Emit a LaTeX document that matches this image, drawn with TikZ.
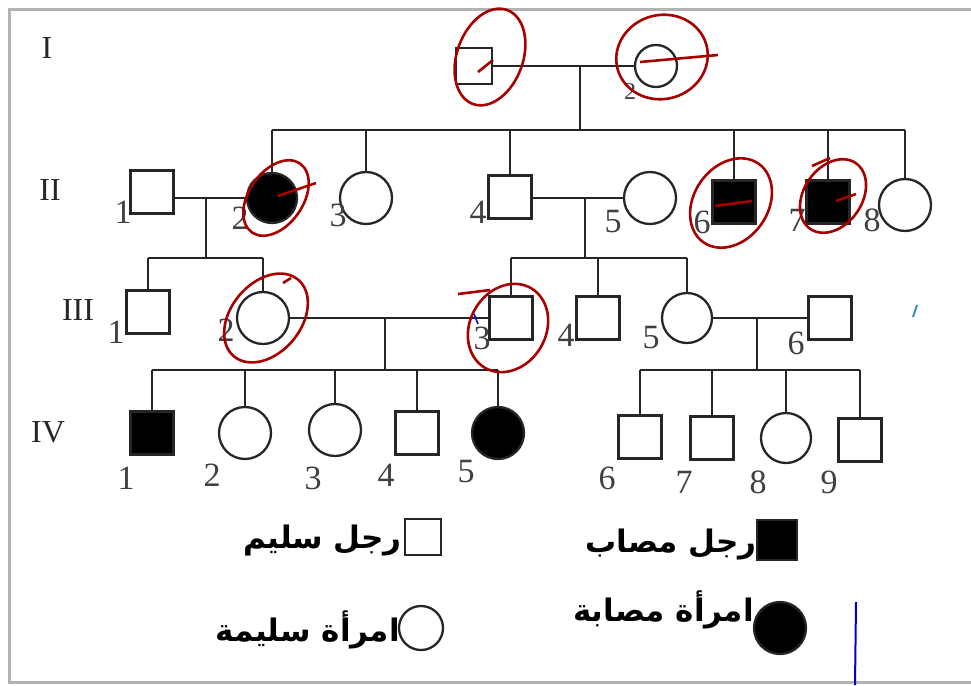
\documentclass[tikz,border=0pt]{standalone}
\usepackage{fontspec}
\setmainfont{Liberation Serif}
\newfontfamily\arabicfont[Script=Arabic]{DejaVu Sans}
\TeXXeTstate=1
\tikzset{
  ped/.style={line width=2.3pt, draw=black!85},
  male/.style={draw=black!85, line width=2.3pt, minimum size=43pt, inner sep=0pt, outer sep=0pt},
  fem/.style={draw=black!85, circle, line width=2.3pt, minimum size=52pt, inner sep=0pt, outer sep=0pt},
  aff/.style={fill=black},
  num/.style={font=\fontsize{34}{34}\selectfont, text=black!75, inner sep=0pt},
  gen/.style={font=\fontsize{32}{32}\selectfont, text=black!85, inner sep=0pt},
  leg/.style={font=\arabicfont\bfseries\fontsize{31}{33}\selectfont, inner sep=0pt},
  ann/.style={draw=red!65!black, line width=2.6pt},
}
\begin{document}
\begin{tikzpicture}[x=1pt,y=-1pt]
\useasboundingbox (0,0) rectangle (971,685);
\draw[gray!60, line width=3pt] (980,10) -- (9,10) -- (9,682) -- (980,682);

% generation labels
\node[gen] (gI) at (47,48) {I};
\node[gen] (gII) at (50,190) {II};
\node[gen] (gIII) at (78,310) {III};
\node[gen] (gIV) at (48,432) {IV};

% generation I
\node[male, minimum size=36pt] (I1) at (474,66) {};
\node[fem, minimum size=42pt] (I2) at (656,66) {};
\node[num, font=\fontsize{24}{24}\selectfont] (lI2) at (630,92) {2};
\coordinate (mI) at (580,66);
\coordinate (sI) at (580,130);
\draw[ped] (I1) -- (I2);
\draw[ped] (mI) -- (sI);

% generation II
\node[male] (II1) at (152,192) {};
\node[fem, aff, minimum size=50pt] (II2) at (272,198) {};
\node[fem] (II3) at (366,198) {};
\node[male] (II4) at (510,197) {};
\node[fem] (II5) at (650,198) {};
\node[male, aff] (II6) at (734,202) {};
\node[male, aff] (II7) at (828,202) {};
\node[fem] (II8) at (905,205) {};
\node[num] (lII1) at (123,212) {1};
\node[num] (lII2) at (240,218) {2};
\node[num] (lII3) at (338,215) {3};
\node[num] (lII4) at (478,212) {4};
\node[num] (lII5) at (613,222) {5};
\node[num] (lII6) at (702,222) {6};
\node[num] (lII7) at (797,220) {7};
\node[num] (lII8) at (872,220) {8};
\draw[ped] (II2.north |- sI) -- (II8.north |- sI);
\foreach \n in {II2,II3,II4,II6,II7,II8}
  \draw[ped] (\n.north |- sI) -- (\n.north);
\draw[ped] (II1.east |- II2) -- (II2);
\draw[ped] (II4.east |- II5) -- (II5);
\coordinate (mIIa) at (206,198);
\coordinate (sIIIa) at (206,258);
\coordinate (mIIb) at (585,198);
\coordinate (sIIIb) at (585,258);
\draw[ped] (mIIa) -- (sIIIa);
\draw[ped] (mIIb) -- (sIIIb);

% generation III
\node[male] (III1) at (148,312) {};
\node[fem] (III2) at (263,318) {};
\node[male] (III3) at (511,318) {};
\node[male] (III4) at (598,318) {};
\node[fem, minimum size=50pt] (III5) at (687,318) {};
\node[male] (III6) at (830,318) {};
\node[num] (lIII1) at (116,332) {1};
\node[num] (lIII2) at (226,330) {2};
\node[num] (lIII3) at (482,338) {3};
\node[num] (lIII4) at (566,335) {4};
\node[num] (lIII5) at (651,338) {5};
\node[num] (lIII6) at (796,343) {6};
\draw[ped] (III1.north |- sIIIa) -- (III2.north |- sIIIa);
\foreach \n in {III1,III2}
  \draw[ped] (\n.north |- sIIIa) -- (\n.north);
\draw[ped] (III3.north |- sIIIb) -- (III5.north |- sIIIb);
\foreach \n in {III3,III4,III5}
  \draw[ped] (\n.north |- sIIIb) -- (\n.north);
\draw[ped] (III2) -- (III3);
\draw[ped] (III5) -- (III6);
\coordinate (mIIIa) at (385,318);
\coordinate (sIVa) at (385,370);
\coordinate (mIIIb) at (757,318);
\coordinate (sIVb) at (757,370);
\draw[ped] (mIIIa) -- (sIVa);
\draw[ped] (mIIIb) -- (sIVb);

% generation IV
\node[male, aff] (IV1) at (152,433) {};
\node[fem] (IV2) at (245,433) {};
\node[fem] (IV3) at (335,430) {};
\node[male] (IV4) at (417,433) {};
\node[fem, aff] (IV5) at (498,433) {};
\node[male] (IV6) at (640,437) {};
\node[male] (IV7) at (712,438) {};
\node[fem, minimum size=50pt] (IV8) at (786,438) {};
\node[male] (IV9) at (860,440) {};
\node[num] (lIV1) at (126,478) {1};
\node[num] (lIV2) at (212,475) {2};
\node[num] (lIV3) at (313,478) {3};
\node[num] (lIV4) at (386,475) {4};
\node[num] (lIV5) at (466,472) {5};
\node[num] (lIV6) at (607,478) {6};
\node[num] (lIV7) at (684,482) {7};
\node[num] (lIV8) at (758,482) {8};
\node[num] (lIV9) at (829,482) {9};
\draw[ped] (IV1.north |- sIVa) -- (IV5.north |- sIVa);
\foreach \n in {IV1,IV2,IV3,IV4,IV5}
  \draw[ped] (\n.north |- sIVa) -- (\n.north);
\draw[ped] (IV6.north |- sIVb) -- (IV9.north |- sIVb);
\foreach \n in {IV6,IV7,IV8,IV9}
  \draw[ped] (\n.north |- sIVb) -- (\n.north);

% legend
\node[male, minimum size=36pt] (Lm) at (423,537) {};
\node[leg, anchor=east] (Lmt) at (402,541) {\beginR رجل سليم\endR};
\node[male, aff, minimum size=40pt] (La) at (777,540) {};
\node[leg, anchor=east] (Lat) at (757,545) {\beginR رجل مصاب\endR};
\node[fem, minimum size=44pt] (Lf) at (421,628) {};
\node[leg, anchor=east] (Lft) at (400,630) {\beginR امرأة سليمة\endR};
\node[fem, aff, minimum size=52pt] (Lfa) at (780,628) {};
\node[leg, anchor=east] (Lfat) at (754,610) {\beginR امرأة مصابة\endR};

% hand annotations
\draw[ann, rotate around={-20:(490,57)}] (490,57) ellipse [x radius=33, y radius=50];
\draw[ann] (493,60) -- (478,72);
\draw[ann, rotate around={15:(662,57)}] (662,57) ellipse [x radius=46, y radius=42];
\draw[ann] (640,62) -- (718,55);
\draw[ann, rotate around={-35:(276,198)}] (276,198) ellipse [x radius=27, y radius=42];
\draw[ann] (278,196) -- (316,183);
\draw[ann, rotate around={-35:(731,203)}] (731,203) ellipse [x radius=37, y radius=48];
\draw[ann] (715,206) -- (752,201);
\draw[ann, rotate around={-35:(833,196)}] (833,196) ellipse [x radius=29, y radius=40];
\draw[ann] (836,201) -- (856,194);
\draw[ann] (812,166) -- (830,158);
\draw[ann, rotate around={-40:(266,318)}] (266,318) ellipse [x radius=35, y radius=50];
\draw[ann] (283,283) -- (291,278);
\draw[ann, rotate around={-30:(508,328)}] (508,328) ellipse [x radius=38, y radius=46];
\draw[ann] (458,294) -- (490,290);
\draw[blue!80!black, line width=1.5pt] (474,314) -- (478,324);
\draw[cyan!70!black, line width=2pt] (917,305) -- (913,317);
\draw[blue!80!black, line width=2pt] (856,602) -- (855,685);
\end{tikzpicture}
\end{document}
